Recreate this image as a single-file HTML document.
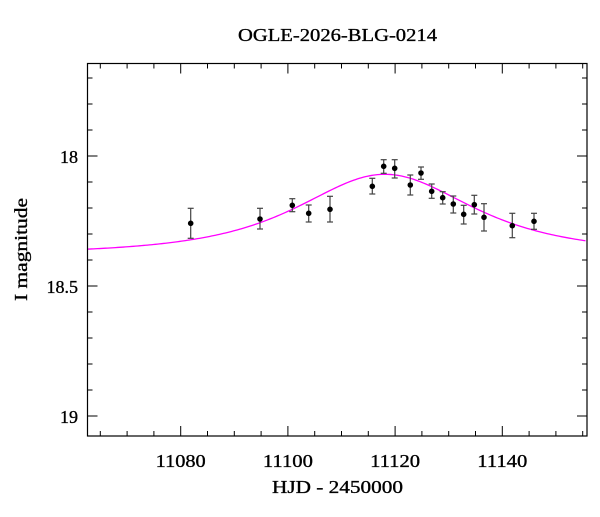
<!DOCTYPE html>
<html><head><meta charset="utf-8"><style>
body{margin:0;background:#fff;}
svg text{font-family:"Liberation Serif",serif;fill:#000;stroke:#000;stroke-width:0.35;}
</style></head><body>
<svg id="s" width="600" height="512" xmlns="http://www.w3.org/2000/svg">
<rect width="600" height="512" fill="#fff"/>
<text x="238" y="41" font-size="18" textLength="199" lengthAdjust="spacingAndGlyphs">OGLE-2026-BLG-0214</text>
<text x="272" y="493" font-size="18" textLength="131" lengthAdjust="spacingAndGlyphs">HJD - 2450000</text>
<text transform="translate(27,301) rotate(-90)" font-size="18" textLength="103" lengthAdjust="spacingAndGlyphs">I magnitude</text>
<g id="ax" stroke="#000" stroke-width="1" fill="none"></g>
<g id="lab" font-size="18"></g>
<path id="curve" fill="none" stroke="#ff00ff" stroke-width="1.3"/>
<g id="pts"></g>
<rect x="87.5" y="63.5" width="499.5" height="372.5" fill="none" stroke="#000" stroke-width="1.2"/>
</svg>
<script>
var L=87.5,R=587,T=63.5,B=436;
function X(t){return 180.7+(t-11080)*5.36;}
function Y(m){return 156+(m-18)*260;}
var ax=document.getElementById('ax'),lab=document.getElementById('lab'),h='',lh='';
for(var t=11065;t<=11155;t+=5){var x=X(t),len=(t%20==0)?10:5;
h+='<line x1="'+x+'" y1="'+B+'" x2="'+x+'" y2="'+(B-len)+'"/><line x1="'+x+'" y1="'+T+'" x2="'+x+'" y2="'+(T+len)+'"/>';
if(t%20==0)lh+='<text x="'+(x-25)+'" y="467" textLength="50" lengthAdjust="spacingAndGlyphs">'+t+'</text>';}
for(var i=7;i<=20;i++){var m=17+i*0.1,y=Y(m);if(y<T||y>B)continue;var maj=(i%5==0),len=maj?10:5;
h+='<line x1="'+L+'" y1="'+y+'" x2="'+(L+len)+'" y2="'+y+'"/><line x1="'+R+'" y1="'+y+'" x2="'+(R-len)+'" y2="'+y+'"/>';
if(maj){var s=(i==10)?'18':(i==15?'18.5':'19');lh+='<text x="78" y="'+(y+7)+'" text-anchor="end">'+s+'</text>';}}
ax.innerHTML=h;lab.innerHTML=lh;
var d='';for(var x=L;x<=R;x+=2){var t=11080+(x-180.7)/5.36,dt=t-11118.1;var dF=0.33/Math.pow(1+(dt/23.8)*(dt/23.8),1.5);
var m=18.38-2.5*Math.log10(1+dF);d+=(d?'L':'M')+x.toFixed(1)+' '+Y(m).toFixed(2);}
document.getElementById('curve').setAttribute('d',d);
var P=[[190.7,223.3,208.3,238.3],[260,219,208.3,229],[292.3,205.3,198.7,211.7],[308.7,213.3,205,222],[330,209.3,196.3,222],[372.3,186.3,178.3,194],[383.7,166.3,159.7,173.3],[394.7,168.3,159.7,178],[410.3,185,175,195],[421,173,167,179.3],[431.7,191.3,184,198.3],[442.7,197.7,191.7,204],[453.3,204,196,213],[463.7,214.3,205.3,224],[474.3,204.7,195.3,214],[484,217.3,203.7,231],[512.3,225.7,213.3,237.7],[534,221.3,213.3,229.3]];
var ph='';P.forEach(function(p){ph+='<g stroke="#444" stroke-width="1.2"><line x1="'+p[0]+'" y1="'+p[2]+'" x2="'+p[0]+'" y2="'+p[3]+'"/><line x1="'+(p[0]-3)+'" y1="'+p[2]+'" x2="'+(p[0]+3)+'" y2="'+p[2]+'"/><line x1="'+(p[0]-3)+'" y1="'+p[3]+'" x2="'+(p[0]+3)+'" y2="'+p[3]+'"/></g><circle cx="'+p[0]+'" cy="'+p[1]+'" r="2.8" fill="#000"/>';});
document.getElementById('pts').innerHTML=ph;
</script>
</body></html>
